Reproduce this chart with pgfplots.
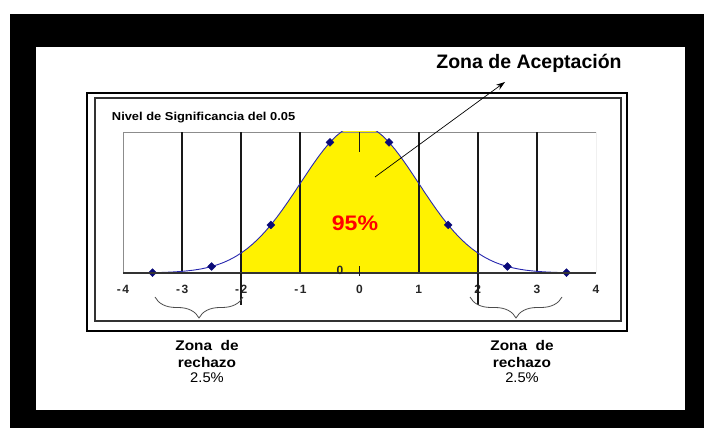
\documentclass[border=0pt]{standalone}
\usepackage{fontspec}
\setmainfont{Liberation Sans}
\usepackage{pgfplots}
\pgfplotsset{compat=1.18}
\usetikzlibrary{decorations.pathreplacing,arrows.meta}
\definecolor{curveblue}{RGB}{40,40,175}
\definecolor{mkblue}{RGB}{10,10,120}
\begin{document}
\begin{tikzpicture}[x=1pt,y=1pt]
\fill[white] (0,0) rectangle (704,428);
\fill[black] (10,0) rectangle (704,414);
\fill[white] (36,18) rectangle (685,381);
% chart box (double border)
\draw[line width=1.5pt] (87,97) rectangle (627,335);
\draw[line width=1.2pt, black!80] (95,107) rectangle (621,330);
\node[anchor=west, xscale=1.12, font=\bfseries\fontsize{11.5}{11.5}\selectfont] at (108,310) {Nivel de Significancia del 0.05};
\begin{axis}[
  at={(123pt,155pt)}, anchor=south west, scale only axis,
  width=473pt, height=141pt,
  xmin=-4, xmax=4, ymin=0, ymax=0.38,
  axis line style={draw=none},
  xtick={-4,-3,-2,-1,0,1,2,3,4},
  xticklabels={-\kern1.5pt4,-\kern1.5pt3,-\kern1.5pt2,-\kern1.5pt1,0,1,2,3,4},
  ytick=\empty,
  major tick length=0pt,
  xticklabel style={font=\bfseries\fontsize{12}{12}\selectfont, text=black!85, yshift=-9pt},
]
% yellow acceptance region
\addplot[fill=yellow, draw=none] table {
x y
-2.0 0.0540
-1.9 0.0656
-1.8 0.0790
-1.7 0.0940
-1.6 0.1109
-1.5 0.1295
-1.4 0.1497
-1.3 0.1714
-1.2 0.1942
-1.1 0.2179
-1.0 0.2420
-0.9 0.2661
-0.8 0.2897
-0.7 0.3123
-0.6 0.3332
-0.5 0.3521
-0.4 0.3683
-0.3 0.3814
-0.2 0.3910
-0.1 0.3970
0.0 0.3989
0.1 0.3970
0.2 0.3910
0.3 0.3814
0.4 0.3683
0.5 0.3521
0.6 0.3332
0.7 0.3123
0.8 0.2897
0.9 0.2661
1.0 0.2420
1.1 0.2179
1.2 0.1942
1.3 0.1714
1.4 0.1497
1.5 0.1295
1.6 0.1109
1.7 0.0940
1.8 0.0790
1.9 0.0656
2.0 0.0540
} \closedcycle;
% frame lines of plot area
\draw[black!45, line width=0.8pt] (axis cs:-4,0) -- (axis cs:-4,0.38) -- (axis cs:4,0.38) -- (axis cs:4,0);
% grid lines
\draw[black!90, line width=1.8pt] (axis cs:-3,0) -- (axis cs:-3,0.38);
\draw[black!90, line width=1.8pt] (axis cs:-2,0) -- (axis cs:-2,0.38);
\draw[black!90, line width=1.8pt] (axis cs:-1,0) -- (axis cs:-1,0.38);
\draw[black!90, line width=1.8pt] (axis cs:1,0) -- (axis cs:1,0.38);
\draw[black!90, line width=1.8pt] (axis cs:2,0) -- (axis cs:2,0.38);
\draw[black!90, line width=1.8pt] (axis cs:3,0) -- (axis cs:3,0.38);
\draw[black!90, line width=1.8pt] (axis cs:0,0.38) -- (axis cs:0,0.326);
\coordinate (m2) at (axis cs:-2,0);
\coordinate (p2) at (axis cs:2,0);
\coordinate (z0) at (axis cs:0,0);
% density curve
\addplot[curveblue, line width=0.9pt] table {
x y
-3.5 0.0009
-3.4 0.0012
-3.3 0.0017
-3.2 0.0024
-3.1 0.0033
-3.0 0.0044
-2.9 0.0060
-2.8 0.0079
-2.7 0.0104
-2.6 0.0136
-2.5 0.0175
-2.4 0.0224
-2.3 0.0283
-2.2 0.0355
-2.1 0.0440
-2.0 0.0540
-1.9 0.0656
-1.8 0.0790
-1.7 0.0940
-1.6 0.1109
-1.5 0.1295
-1.4 0.1497
-1.3 0.1714
-1.2 0.1942
-1.1 0.2179
-1.0 0.2420
-0.9 0.2661
-0.8 0.2897
-0.7 0.3123
-0.6 0.3332
-0.5 0.3521
-0.4 0.3683
-0.3 0.3814
-0.2 0.3910
-0.1 0.3970
0.0 0.3989
0.1 0.3970
0.2 0.3910
0.3 0.3814
0.4 0.3683
0.5 0.3521
0.6 0.3332
0.7 0.3123
0.8 0.2897
0.9 0.2661
1.0 0.2420
1.1 0.2179
1.2 0.1942
1.3 0.1714
1.4 0.1497
1.5 0.1295
1.6 0.1109
1.7 0.0940
1.8 0.0790
1.9 0.0656
2.0 0.0540
2.1 0.0440
2.2 0.0355
2.3 0.0283
2.4 0.0224
2.5 0.0175
2.6 0.0136
2.7 0.0104
2.8 0.0079
2.9 0.0060
3.0 0.0044
3.1 0.0033
3.2 0.0024
3.3 0.0017
3.4 0.0012
3.5 0.0009
};
\addplot[only marks, mark=square*, mark options={rotate=45}, mark size=2.8pt, mkblue] coordinates {
(-3.5,0.0009) (-2.5,0.0175) (-1.5,0.1295) (-0.5,0.3521)
(0.5,0.3521) (1.5,0.1295) (2.5,0.0175) (3.5,0.0009)};
\end{axis}
% axis line and extras outside clip
\draw[black!80, line width=1.2pt] (123,155) -- (596,155);
\draw[black!90, line width=1.8pt] (m2) -- ++(0,-32);
\draw[black!90, line width=1.8pt] (p2) -- ++(0,-32);
\draw[black!90, line width=1.8pt] ([yshift=-3pt]z0) -- ++(0,10);
\node[font=\bfseries\fontsize{12}{12}\selectfont, text=black!85] at (340,158) {0};
% texts
\node[font=\bfseries\fontsize{19.5}{19.5}\selectfont] at (529,365) {Zona de Aceptación};
\draw[-{Stealth[length=9pt,width=6pt]}, line width=0.7pt] (375,251) -- (505,346);
\node[xscale=1.1, font=\bfseries\fontsize{21}{21}\selectfont, text=red] at (355,205) {95\%};
% braces
\draw[black!70, line width=0.8pt, decorate, decoration={brace, mirror, amplitude=21pt}] (155,131) -- (243,131);
\draw[black!70, line width=0.8pt, decorate, decoration={brace, mirror, amplitude=21pt}] (470,131) -- (562,131);
\node[align=center, xscale=1.1, font=\bfseries\fontsize{14}{17}\selectfont] at (207,74) {Zona\ \ de\\rechazo};
\node[xscale=1.05, font=\fontsize{14}{14}\selectfont] at (207,50) {2.5\%};
\node[align=center, xscale=1.1, font=\bfseries\fontsize{14}{17}\selectfont] at (522,74) {Zona\ \ de\\rechazo};
\node[xscale=1.05, font=\fontsize{14}{14}\selectfont] at (522,50) {2.5\%};
\end{tikzpicture}
\end{document}
